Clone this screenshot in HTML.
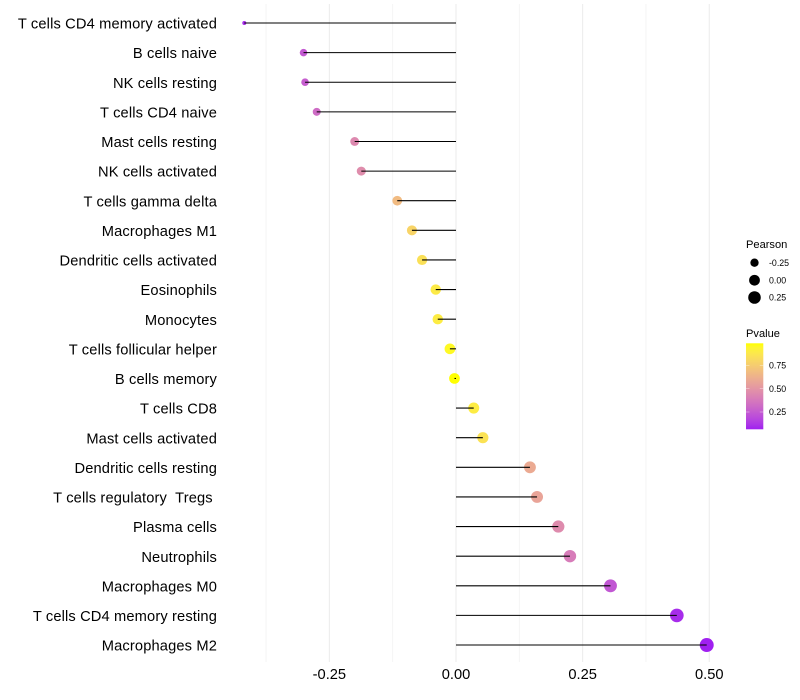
<!DOCTYPE html>
<html>
<head>
<meta charset="utf-8">
<title>Immune cell correlation lollipop chart</title>
<style>
html,body{margin:0;padding:0;background:#fff;}
svg{display:block;font-family:"Liberation Sans",sans-serif;}
</style>
</head>
<body>
<svg id="chart" width="800" height="700" viewBox="0 0 800 700" xmlns="http://www.w3.org/2000/svg"></svg>
<script>
const categories = ["T cells CD4 memory activated","B cells naive","NK cells resting","T cells CD4 naive","Mast cells resting","NK cells activated","T cells gamma delta","Macrophages M1","Dendritic cells activated","Eosinophils","Monocytes","T cells follicular helper","B cells memory","T cells CD8","Mast cells activated","Dendritic cells resting","T cells regulatory  Tregs ","Plasma cells","Neutrophils","Macrophages M0","T cells CD4 memory resting","Macrophages M2"];
const pearson = [-0.418,-0.301,-0.298,-0.275,-0.2,-0.187,-0.116,-0.087,-0.067,-0.04,-0.036,-0.012,-0.003,0.035,0.053,0.146,0.16,0.202,0.225,0.305,0.436,0.495];
const pvalue = [0.05,0.21,0.23,0.29,0.42,0.44,0.66,0.78,0.84,0.89,0.9,0.96,0.99,0.9,0.85,0.58,0.55,0.43,0.36,0.2,0.05,0.02];
const xTicks = [-0.25,0,0.25,0.5];
const xTickLabels = ["-0.25","0.00","0.25","0.50"];
const xMinorTicks = [-0.375,-0.125,0.125,0.375];
const sizeLegendValues = [-0.25,0,0.25];
const sizeLegendLabels = ["-0.25","0.00","0.25"];
const colorLegendValues = [0.75,0.5,0.25];
const colorLegendLabels = ["0.75","0.50","0.25"];

const svg = document.getElementById('chart');
const NS = 'http://www.w3.org/2000/svg';
function make(tag, attrs, text) {
  const el = document.createElementNS(NS, tag);
  for (const k in attrs) el.setAttribute(k, attrs[k]);
  if (text !== undefined) el.textContent = text;
  svg.appendChild(el);
  return el;
}
function xScale(v) { return 456 + v * 506.5; }
function yScale(i) { return 23 + i * 29.62; }
function sizeScale(v) {
  const lo = -0.418, hi = 0.495;
  const t = Math.max(0, Math.min(1, (v - lo) / (hi - lo)));
  return 2 + 5 * Math.sqrt(t);
}
function colorLegendY(v) { return 388.7 - (v - 0.5) * 93.2; }

function srgbToLinear(c) { c /= 255; return c <= 0.04045 ? c / 12.92 : Math.pow((c + 0.055) / 1.055, 2.4); }
function linearToSrgb(c) {
  const v = c <= 0.0031308 ? 12.92 * c : 1.055 * Math.pow(c, 1 / 2.4) - 0.055;
  return Math.round(255 * Math.max(0, Math.min(1, v)));
}
function rgbToLab(rgb) {
  const r = srgbToLinear(rgb[0]), g = srgbToLinear(rgb[1]), b = srgbToLinear(rgb[2]);
  const f = t => t > 0.008856 ? Math.cbrt(t) : 7.787 * t + 16 / 116;
  const x = f((0.4124 * r + 0.3576 * g + 0.1805 * b) / 0.95047);
  const y = f(0.2126 * r + 0.7152 * g + 0.0722 * b);
  const z = f((0.0193 * r + 0.1192 * g + 0.9505 * b) / 1.08883);
  return [116 * y - 16, 500 * (x - y), 200 * (y - z)];
}
function labToRgb(lab) {
  const fy = (lab[0] + 16) / 116, fx = fy + lab[1] / 500, fz = fy - lab[2] / 200;
  const g = t => t * t * t > 0.008856 ? t * t * t : (t - 16 / 116) / 7.787;
  const x = g(fx) * 0.95047, y = g(fy), z = g(fz) * 1.08883;
  return [
    linearToSrgb(3.2406 * x - 1.5372 * y - 0.4986 * z),
    linearToSrgb(-0.9689 * x + 1.8758 * y + 0.0415 * z),
    linearToSrgb(0.0557 * x - 0.2040 * y + 1.0570 * z)
  ];
}
const labLow = rgbToLab([160, 32, 240]);
const labHigh = rgbToLab([255, 255, 0]);
function colorScale(p) {
  const t = Math.max(0, Math.min(1, (p - 0.02) / (0.99 - 0.02)));
  const c = labToRgb([0, 1, 2].map(i => labLow[i] + (labHigh[i] - labLow[i]) * t));
  return 'rgb(' + c.join(',') + ')';
}

/* gridlines */
xMinorTicks.forEach(function (v) {
  const el = make('line', {x1: xScale(v), x2: xScale(v), y1: 4, y2: 662, stroke: '#f2f2f2', 'stroke-width': 0.8});
  
  
});
xTicks.forEach(function (v) {
  const el = make('line', {x1: xScale(v), x2: xScale(v), y1: 4, y2: 662, stroke: '#ebebeb', 'stroke-width': 1});
  
  
});

/* dots, then stems above them */
categories.forEach(function (name, i) {
  const dot = make('circle', {cx: xScale(pearson[i]), cy: yScale(i), r: sizeScale(pearson[i]), fill: colorScale(pvalue[i])});
  
  
});
categories.forEach(function (name, i) {
  const stem = make('line', {x1: xScale(0), x2: xScale(pearson[i]), y1: yScale(i), y2: yScale(i), stroke: '#000', 'stroke-width': 1.07});
  
  
});

/* category labels */
categories.forEach(function (name, i) {
  const label = make('text', {x: 217, y: yScale(i) + 5.6, 'text-anchor': 'end', 'font-size': 14.67, 'letter-spacing': 0.14, fill: '#000', style: 'white-space:pre'}, name);
  
  
});

/* x tick labels */
xTicks.forEach(function (v, i) {
  const label = make('text', {x: xScale(v), y: 679, 'text-anchor': 'middle', 'font-size': 14.67, fill: '#000'}, xTickLabels[i]);
  
  
});

/* size legend */
const pearsonTitle = make('text', {x: 746, y: 248, 'font-size': 11.1, fill: '#000'}, 'Pearson');


const sizeRowY = [262.7, 280.2, 297.5];
sizeLegendValues.forEach(function (v, i) {
  const key = make('circle', {cx: 754.5, cy: sizeRowY[i], r: sizeScale(v), fill: '#000'});
  
  
  const label = make('text', {x: 769, y: sizeRowY[i] + 3.2, 'font-size': 8.8, fill: '#000'}, sizeLegendLabels[i]);
  
  
});

/* colour legend */
const pvalueTitle = make('text', {x: 746, y: 337, 'font-size': 11.1, fill: '#000'}, 'Pvalue');


const defs = make('defs', {});
const grad = document.createElementNS(NS, 'linearGradient');
grad.setAttribute('id', 'pvalue-gradient');
grad.setAttribute('x1', '0'); grad.setAttribute('x2', '0');
grad.setAttribute('y1', '1'); grad.setAttribute('y2', '0');
for (let s = 0; s <= 20; s++) {
  const stop = document.createElementNS(NS, 'stop');
  stop.setAttribute('offset', s / 20);
  stop.setAttribute('stop-color', colorScale(0.02 + 0.97 * s / 20));
  grad.appendChild(stop);
}
defs.appendChild(grad);
const bar = make('rect', {x: 746, y: 343.3, width: 17.3, height: 86, fill: 'url(#pvalue-gradient)'});


colorLegendValues.forEach(function (v, i) {
  const y = colorLegendY(v);
  const t1 = make('line', {x1: 746, x2: 749.5, y1: y, y2: y, stroke: '#fff', 'stroke-opacity': 0.6, 'stroke-width': 0.6});
  
  
  const t2 = make('line', {x1: 759.8, x2: 763.3, y1: y, y2: y, stroke: '#fff', 'stroke-opacity': 0.6, 'stroke-width': 0.6});
  
  
  const label = make('text', {x: 769, y: y + 3.2, 'font-size': 8.8, fill: '#000'}, colorLegendLabels[i]);
  
  
});
</script>
</body>
</html>
